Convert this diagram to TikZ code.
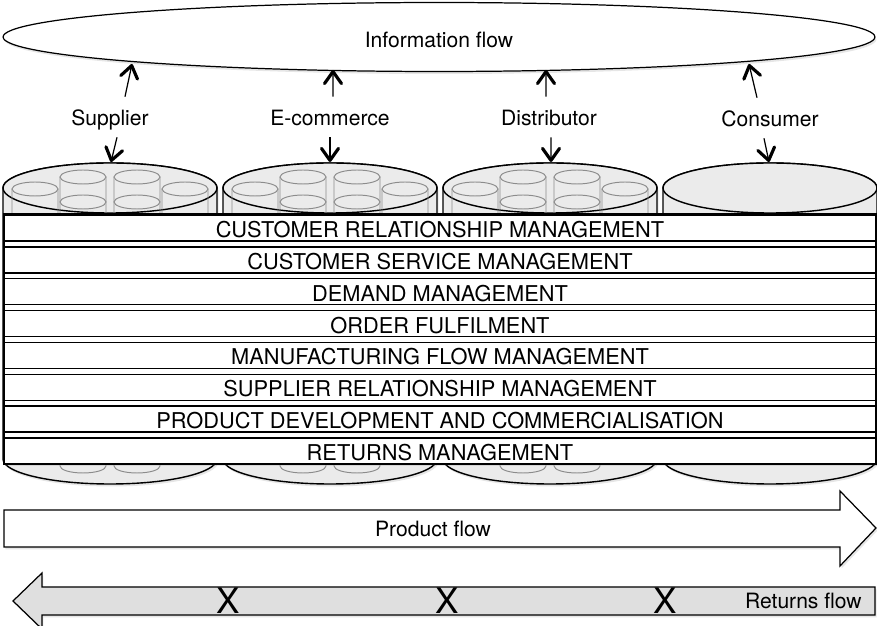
\documentclass[tikz,border=0pt]{standalone}
\usepackage{fontspec}
\setmainfont{TeX Gyre Heros}
\usetikzlibrary{arrows.meta, positioning, shapes.geometric, shadows}

\definecolor{cylgrey}{HTML}{EBEBEB}
\definecolor{tubegrey}{HTML}{8C8C8C}
\definecolor{retgrey}{HTML}{DFDFDF}

\tikzset{
  lbl/.style={font=\fontsize{12}{14}\selectfont, inner xsep=2pt, inner ysep=0pt, text height=0.58cm, text depth=0.22cm},
  updown/.style={color=black, line width=0.7pt, -{Straight Barb[length=0.24cm, width=0.34cm, line width=1.8pt, round]}},
  softshadow/.style={drop shadow={shadow xshift=0.03cm, shadow yshift=-0.05cm, opacity=0.2}},
  cyl/.style={draw=black, line width=0.8pt, fill=cylgrey},
  tube/.style={draw=tubegrey, line width=0.55pt},
  band/.style={draw=black, line width=0.8pt, fill=white, minimum width=17.44cm, minimum height=0.52cm, inner sep=0pt, outer sep=0pt, text height=0.39cm, font=\fontsize{12.4}{14}\selectfont},
  bigarrow/.style={draw=black, line width=0.7pt, softshadow},
}

\begin{document}
\begin{tikzpicture}[x=0.02cm, y=0.02cm]
\useasboundingbox (0,0) rectangle (877,626);
%information flow
\node[draw, ellipse, line width=0.7pt, softshadow, fill=white, minimum width=17.44cm, minimum height=1.38cm, inner sep=0pt, text height=0.43cm, font=\fontsize{12}{14}\selectfont] (info) at (439,589) {Information flow};
\coordinate (info-sup) at (132,562);
\coordinate (info-ecom) at (333,556);
\coordinate (info-dist) at (546,556);
\coordinate (info-cons) at (749,562);
%labels of the chain members
\node[lbl, anchor=base] (supplier) at (110,500) {Supplier};
\node[lbl, anchor=base] (ecommerce) at (330,500) {E-commerce};
\node[lbl, anchor=base] (distributor) at (549,500) {Distributor};
\node[lbl, anchor=base] (consumer) at (770,499) {Consumer};
%first store (supplier)
\draw[cyl, softshadow] (3,438) -- (3,167) arc[start angle=180, end angle=360, x radius=107, y radius=25] -- (217,438) arc[start angle=0, end angle=180, x radius=107, y radius=25] -- cycle;
\draw[cyl] (110,438) ellipse[x radius=107, y radius=25];
%second store (e-commerce)
\draw[cyl, softshadow] (223,438) -- (223,167) arc[start angle=180, end angle=360, x radius=107, y radius=25] -- (437,438) arc[start angle=0, end angle=180, x radius=107, y radius=25] -- cycle;
\draw[cyl] (330,438) ellipse[x radius=107, y radius=25];
%third store (distributor)
\draw[cyl, softshadow] (443,438) -- (443,167) arc[start angle=180, end angle=360, x radius=107, y radius=25] -- (657,438) arc[start angle=0, end angle=180, x radius=107, y radius=25] -- cycle;
\draw[cyl] (550,438) ellipse[x radius=107, y radius=25];
%fourth store (consumer), empty
\draw[cyl, softshadow] (663,438) -- (663,167) arc[start angle=180, end angle=360, x radius=107, y radius=25] -- (877,438) arc[start angle=0, end angle=180, x radius=107, y radius=25] -- cycle;
\draw[cyl] (770,438) ellipse[x radius=107, y radius=25];
%small drums in the first three stores
\foreach \c in {110,330,550}{
  \foreach \d in {-75,75}{
    \draw[tube] (\c+\d-23,437) -- (\c+\d-23,171) arc[start angle=180, end angle=360, x radius=23, y radius=7] -- (\c+\d+23,437);
    \draw[tube] (\c+\d,437) ellipse[x radius=23, y radius=7];
  }
  \foreach \d in {-27,27}{
    \draw[tube] (\c+\d-23,449) -- (\c+\d-23,160) arc[start angle=180, end angle=360, x radius=23, y radius=7] -- (\c+\d+23,449);
    \draw[tube] (\c+\d,449) ellipse[x radius=23, y radius=7];
    \draw[tube] (\c+\d,424) ellipse[x radius=23, y radius=7];
  }
}
\coordinate (top-sup) at (111,464);
\coordinate (top-ecom) at (330,464);
\coordinate (top-dist) at (551,464);
\coordinate (top-cons) at (769,464);
%arrows up to the information flow
\draw[updown] ([xshift=0.3cm]supplier.north) -- (info-sup);
\draw[updown] ([xshift=0.06cm]ecommerce.north) -- (info-ecom);
\draw[updown] ([xshift=-0.06cm]distributor.north) -- (info-dist);
\draw[updown] ([xshift=-0.26cm]consumer.north) -- (info-cons);
%arrows down to the stores
\draw[updown] ([xshift=0.14cm]supplier.south) -- (top-sup);
\draw[updown] (ecommerce.south) -- (top-ecom);
\draw[updown] ([xshift=0.04cm]distributor.south) -- (top-dist);
\draw[updown] ([xshift=-0.12cm]consumer.south) -- (top-cons);
%business processes
\draw[line width=0.8pt, fill=white, softshadow] (4,412) rectangle (876,162);
\node[band] (crm) at (440,398) {CUSTOMER RELATIONSHIP MANAGEMENT};
\node[band, below=0.117cm of crm] (csm) {CUSTOMER SERVICE MANAGEMENT};
\node[band, below=0.117cm of csm] (dm) {DEMAND MANAGEMENT};
\node[band, below=0.117cm of dm] (of) {ORDER FULFILMENT};
\node[band, below=0.117cm of of] (mfm) {MANUFACTURING FLOW MANAGEMENT};
\node[band, below=0.117cm of mfm] (srm) {SUPPLIER RELATIONSHIP MANAGEMENT};
\node[band, below=0.117cm of srm] (pdc) {PRODUCT DEVELOPMENT AND COMMERCIALISATION};
\node[band, below=0.117cm of pdc] (rm) {RETURNS MANAGEMENT};
%product flow
\draw[bigarrow, fill=white] (4,116) -- (840,116) -- (840,135) -- (876,98) -- (840,60) -- (840,79) -- (4,79) -- cycle;
\node[font=\fontsize{12}{14}\selectfont] (product) at (433,97) {Product flow};
%returns flow
\draw[bigarrow, fill=retgrey] (875,39) -- (42,39) -- (42,53) -- (13,25) -- (42,-3) -- (42,11) -- (875,11) -- cycle;
\node[font=\fontsize{20}{22}\selectfont, inner sep=0pt] (x1) at (228,25) {X};
\node[font=\fontsize{20}{22}\selectfont, inner sep=0pt] (x2) at (447,25) {X};
\node[font=\fontsize{20}{22}\selectfont, inner sep=0pt] (x3) at (665,25) {X};
\node[font=\fontsize{12}{14}\selectfont, anchor=east, inner sep=0pt] (returns) at (862,25) {Returns flow};
\end{tikzpicture}
\end{document}
